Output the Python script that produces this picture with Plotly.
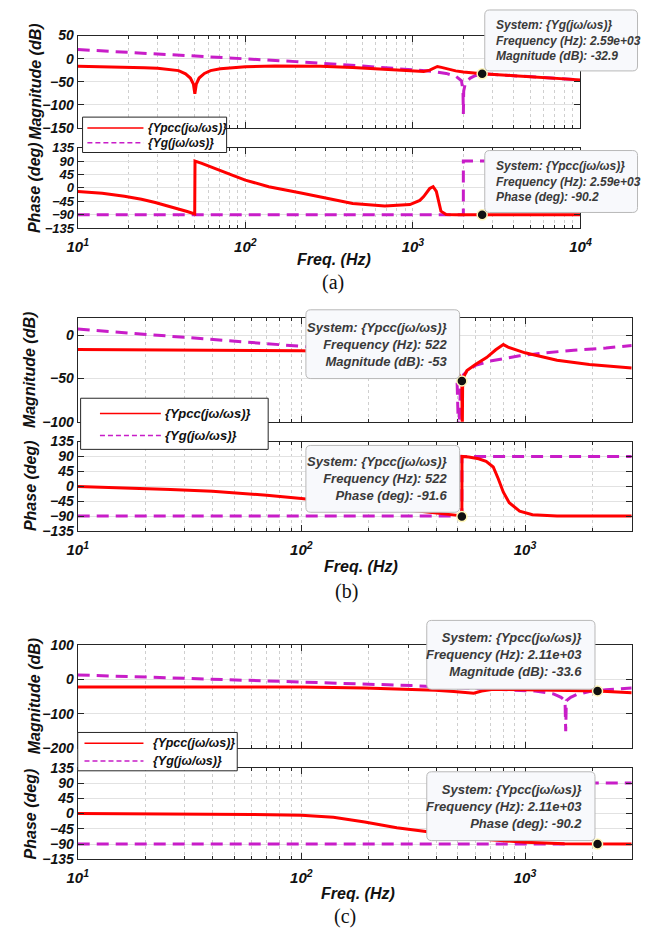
import math
import plotly.graph_objects as go

# ---------------- data: panel (a) ----------------
A_F_PCC_MAG = [10, 15, 20, 25, 30, 35, 40, 44, 47, 49, 50, 51, 53, 57, 62, 71, 85, 100, 150, 215, 281, 437,
               700, 1000, 1160, 1260, 1330, 1400, 1480, 1600, 1800, 2000, 2590, 4000, 6000, 10000]
A_PCC_MAG = [-16.7, -17.5, -18.5, -19.5, -21, -23, -26, -33, -42, -55, -76, -55, -42, -32, -26, -22, -19, -17.5,
             -16, -15.5, -16.5, -19, -23, -26, -28, -25, -20, -17, -19, -22.5, -26.5, -29, -32.9, -37, -41, -46]
A_F_G_MAG = [10, 20, 50, 100, 200, 500, 930, 1300, 1580, 1800, 1950, 1990, 2000, 2010, 2060, 2200, 2350,
             2590, 4000, 6000, 10000]
A_G_MAG = [19.6, 13.6, 5.5, 0, -6.5, -16, -23, -27.5, -32, -38, -48, -70, -120, -70, -52, -42, -37,
           -32.9, -37, -41, -46]
A_F_PCC_PH = [10, 14, 19, 24, 29, 35, 40, 45, 49.9, 50.1, 55, 63, 71, 85, 100, 138, 215, 334, 437, 680, 960,
              1100, 1160, 1260, 1320, 1380, 1420, 1470, 1580, 1800, 2590, 10000]
A_PCC_PH = [-12, -18, -28, -38, -49, -61, -70, -79, -87, 90, 82, 70, 59, 41, 26, 4, -17, -38, -52, -61, -56,
            -42, -29, -2, 4, -12, -45, -78, -89, -90, -90.2, -90]
A_F_G_PH = [10, 2000, 2000, 10000]
A_G_PH = [-90, -90, 90, 90]

# ---------------- data: panel (b) ----------------
B_F_PCC_MAG = [10, 30, 100, 200, 300, 400, 470, 505, 522, 524, 526, 535, 550, 600, 673, 740, 800, 840, 1000,
               1390, 1940, 3000]
B_PCC_MAG = [-16.7, -17.2, -18, -20, -23, -28, -35, -45, -53, -120, -60, -47, -41, -34, -26, -17, -11, -14,
             -20.5, -29, -34, -38]
B_F_G_MAG = [10, 20, 50, 100, 200, 300, 400, 470, 495, 505, 515, 530, 560, 600, 697, 946, 1180, 1650, 2300, 3000]
B_G_MAG = [6.8, 0.8, -6.5, -12.5, -18.5, -22, -25, -30, -38, -120, -55, -46, -40, -35, -30, -24, -21, -17.5,
           -15, -12]
B_F_PCC_PH = [10, 15, 26, 40, 51, 70, 100, 150, 250, 400, 500, 522, 522.5, 560, 620, 670, 721, 760, 800, 850,
              946, 1080, 1390, 3000]
B_PCC_PH = [-1, -4, -10, -15, -20, -27, -37, -50, -65, -80, -88, -91.6, 90, 88, 83, 75, 58, 22, -18, -50,
            -75, -86, -90, -90]
B_F_G_PH = [10, 522, 522, 3000]
B_G_PH = [-90, -90, 90, 90]

# ---------------- data: panel (c) ----------------
C_F_PCC_MAG = [10, 50, 100, 192, 294, 397, 480, 540, 590, 640, 720, 1000, 1500, 2110, 3000]
C_PCC_MAG = [-22, -22, -22.3, -24.8, -27.6, -31.4, -35, -38.5, -40, -34, -28.5, -30, -32, -33.6, -38.5]
C_F_G_MAG = [10, 20, 50, 100, 192, 311, 500, 850, 1110, 1340, 1450, 1510, 1520, 1530, 1600, 1700, 1940,
             2300, 3000]
C_G_MAG = [13, 7, -1, -7, -12.4, -18, -24, -29.5, -34, -42, -52, -62, -151, -62, -52, -44, -35, -30, -25]
C_F_PCC_PH = [10, 30, 60, 100, 139, 192, 267, 360, 500, 700, 1000, 1500, 2110, 3000]
C_PCC_PH = [0, -1, -2.5, -5, -11, -25, -42, -53, -66, -77, -85, -89, -90.2, -90]
C_F_G_PH = [10, 1520, 1520, 3000]
C_G_PH = [-90, -90, 90, 90]

# data tips (frequency, magnitude, phase)
TIP_A = (2590, -32.9, -90.2)
TIP_B = (522, -53, -91.6)
TIP_C = (2110, -33.6, -90.2)

# tick values / labels
MAJOR_A = [10, 100, 1000, 10000]
MINOR_A = [20, 30, 40, 50, 60, 70, 80, 90, 200, 300, 400, 500, 600, 700, 800, 900,
           2000, 3000, 4000, 5000, 6000, 7000, 8000, 9000]
TEXT_A = ["10<sup>1</sup>", "10<sup>2</sup>", "10<sup>3</sup>", "10<sup>4</sup>"]
MAJOR_BC = [10, 100, 1000]
MINOR_BC = [20, 30, 40, 50, 60, 70, 80, 90, 200, 300, 400, 500, 600, 700, 800, 900, 2000]
TEXT_BC = ["10<sup>1</sup>", "10<sup>2</sup>", "10<sup>3</sup>"]
PH_TICKS = [-135, -90, -45, 0, 45, 90, 135]
MAG_TICKS_A = [-150, -100, -50, 0, 50]
MAG_TICKS_B = [-100, -50, 0]
MAG_TICKS_C = [-200, -100, 0, 100]

NAME_PCC = "{Ypcc(jω/ωs)}"
NAME_G = "{Yg(jω/ωs)}"

# ---------------- styling / layout ----------------
W, H = 664, 941
RED = "#ff0000"
MAGENTA = "#c81dc8"
AXC = "#262626"
TIPC = "#3a3a3a"
FONT = "Liberation Sans"


def X(p):
    return p / W


def Y(p):
    return 1 - p / H


def tfont(size):
    return dict(family=FONT, size=size, color="#111111", weight="bold", style="italic")


panels = [
    dict(xr=[1, 4], xpx=(69, 589), mag_px=(28, 122), ph_px=(142, 224), mag_rng=[-150, 50],
         mag_ticks=MAG_TICKS_A, majors=MAJOR_A, minors=MINOR_A, ttext=TEXT_A, ph_font=13,
         f_pm=A_F_PCC_MAG, pm=A_PCC_MAG, f_gm=A_F_G_MAG, gm=A_G_MAG,
         f_pp=A_F_PCC_PH, pp=A_PCC_PH, f_gp=A_F_G_PH, gp=A_G_PH, tip=TIP_A,
         ylab=((26, 75), (25, 183)), freq=(334, 256), cap=("(a)", 333, 279),
         legend=dict(box=(74, 111, 223, 147), rows=(122, 137), line=(79, 137), tx=140, size=12),
         boxes=[((490, 2, 648, 64), "left", 500, 12,
                 ["System: " + NAME_G, "Frequency (Hz): 2.59e+03", "Magnitude (dB): -32.9"]),
                ((490, 145, 648, 208), "left", 500, 12,
                 ["System: " + NAME_PCC, "Frequency (Hz): 2.59e+03", "Phase (deg): -90.2"])]),
    dict(xr=[1, math.log10(3000)], xpx=(69, 642), mag_px=(315, 421), ph_px=(441, 532), mag_rng=[-100, 20],
         mag_ticks=MAG_TICKS_B, majors=MAJOR_BC, minors=MINOR_BC, ttext=TEXT_BC, ph_font=14,
         f_pm=B_F_PCC_MAG, pm=B_PCC_MAG, f_gm=B_F_G_MAG, gm=B_G_MAG,
         f_pp=B_F_PCC_PH, pp=B_PCC_PH, f_gp=B_F_G_PH, gp=B_G_PH, tip=TIP_B,
         ylab=((19, 368), (20, 486)), freq=(362, 568), cap=("(b)", 347, 594),
         legend=dict(box=(72, 397, 266, 449), rows=(412.5, 435), line=(92, 155), tx=157, size=13),
         boxes=[((305, 307, 464, 377), "right", 453, 13,
                 ["System: " + NAME_PCC, "Frequency (Hz): 522", "Magnitude (dB): -53"]),
                ((305, 445, 464, 513), "right", 453, 13,
                 ["System: " + NAME_PCC, "Frequency (Hz): 522", "Phase (deg): -91.6"])]),
    dict(xr=[1, math.log10(3000)], xpx=(69, 642), mag_px=(648, 753), ph_px=(773, 866), mag_rng=[-200, 100],
         mag_ticks=MAG_TICKS_C, majors=MAJOR_BC, minors=MINOR_BC, ttext=TEXT_BC, ph_font=14,
         f_pm=C_F_PCC_MAG, pm=C_PCC_MAG, f_gm=C_F_G_MAG, gm=C_G_MAG,
         f_pp=C_F_PCC_PH, pp=C_PCC_PH, f_gp=C_F_G_PH, gp=C_G_PH, tip=TIP_C,
         ylab=((24, 700), (20, 820)), freq=(359, 901), cap=("(c)", 345, 924),
         legend=dict(box=(69, 737, 234, 776), rows=(748, 766), line=(76, 137), tx=145, size=12.5),
         boxes=[((430, 623, 604, 693), "right", 593, 13,
                 ["System: " + NAME_PCC, "Frequency (Hz): 2.11e+03", "Magnitude (dB): -33.6"]),
                ((430, 777, 604, 847), "right", 593, 13,
                 ["System: " + NAME_PCC, "Frequency (Hz): 2.11e+03", "Phase (deg): -90.2"])]),
]

fig = go.Figure()
layout = dict(width=W, height=H, autosize=False, margin=dict(l=0, r=0, t=0, b=0),
              paper_bgcolor="white", plot_bgcolor="white", showlegend=False)
annotations = []
shapes = []


def rrect_path(x0, y0, x1, y1, r=5):
    pts = [
        ("M", [(x0 + r, y0)]), ("L", [(x1 - r, y0)]), ("Q", [(x1, y0), (x1, y0 + r)]),
        ("L", [(x1, y1 - r)]), ("Q", [(x1, y1), (x1 - r, y1)]), ("L", [(x0 + r, y1)]),
        ("Q", [(x0, y1), (x0, y1 - r)]), ("L", [(x0, y0 + r)]), ("Q", [(x0, y0), (x0 + r, y0)]),
    ]
    s = ""
    for cmd, ps in pts:
        s += cmd + " " + " ".join(f"{X(a):.5f},{Y(b):.5f}" for a, b in ps) + " "
    return s + "Z"


for i, p in enumerate(panels):
    im, ip = 2 * i + 1, 2 * i + 2
    xm = "x" if im == 1 else f"x{im}"
    ym = "y" if im == 1 else f"y{im}"
    xp, yp = f"x{ip}", f"y{ip}"
    xdom = [X(p["xpx"][0]), X(p["xpx"][1])]

    for (xa, ya, ypx, show, rng, yt, yfs) in [
            (xm, ym, p["mag_px"], False, p["mag_rng"], p["mag_ticks"], 14),
            (xp, yp, p["ph_px"], True, [-135, 135], PH_TICKS, p["ph_font"])]:
        xkey = "xaxis" if xa == "x" else "xaxis" + xa[1:]
        ykey = "yaxis" if ya == "y" else "yaxis" + ya[1:]
        xcfg = dict(
            type="log", domain=xdom, range=p["xr"], anchor=ya,
            tickmode="array", tickvals=p["majors"], showticklabels=show,
            ticks="inside", ticklen=6, tickwidth=1, tickcolor=AXC,
            showline=True, linecolor=AXC, linewidth=1.3, mirror="allticks",
            showgrid=True, gridcolor="#c4c4c4", griddash="dot", gridwidth=1, zeroline=False,
            minor=dict(tickmode="array", tickvals=p["minors"], ticks="inside", ticklen=3, tickcolor=AXC,
                       showgrid=True, gridcolor="#cfcfcf", griddash="dot", gridwidth=1))
        if show:
            xcfg.update(ticktext=p["ttext"], tickfont=tfont(15), ticklabelstandoff=5)
        layout[xkey] = xcfg
        layout[ykey] = dict(
            domain=[Y(ypx[1]), Y(ypx[0])], range=rng, anchor=xa,
            tickmode="array", tickvals=yt, ticks="inside", ticklen=6, tickwidth=1, tickcolor=AXC,
            showline=True, linecolor=AXC, linewidth=1.3, mirror="allticks",
            showgrid=True, gridcolor="#e2e2e2", gridwidth=1, zeroline=False,
            tickfont=tfont(yfs))

    # magnitude traces
    fig.add_trace(go.Scatter(x=p["f_gm"], y=p["gm"], mode="lines", xaxis=xm, yaxis=ym, name=NAME_G,
                             line=dict(color=MAGENTA, width=3, dash="12px,7px"), hoverinfo="skip"))
    fig.add_trace(go.Scatter(x=p["f_pm"], y=p["pm"], mode="lines", xaxis=xm, yaxis=ym, name=NAME_PCC,
                             line=dict(color=RED, width=3), hoverinfo="skip"))
    # phase traces
    fig.add_trace(go.Scatter(x=p["f_gp"], y=p["gp"], mode="lines", xaxis=xp, yaxis=yp, name=NAME_G,
                             line=dict(color=MAGENTA, width=3, dash="12px,7px"), hoverinfo="skip"))
    fig.add_trace(go.Scatter(x=p["f_pp"], y=p["pp"], mode="lines", xaxis=xp, yaxis=yp, name=NAME_PCC,
                             line=dict(color=RED, width=3), hoverinfo="skip"))

    # legend box (drawn as shapes + text)
    lgd = p["legend"]
    bx0, by0, bx1, by1 = lgd["box"]
    shapes.append(dict(type="rect", xref="paper", yref="paper", x0=X(bx0), x1=X(bx1), y0=Y(by1), y1=Y(by0),
                       fillcolor="white", line=dict(color=AXC, width=1), layer="above"))
    lx0, lx1 = lgd["line"]
    for (ry, col, dash, name) in [(lgd["rows"][0], RED, "solid", NAME_PCC),
                                  (lgd["rows"][1], MAGENTA, "5px,3px", NAME_G)]:
        shapes.append(dict(type="line", xref="paper", yref="paper", x0=X(lx0), x1=X(lx1), y0=Y(ry), y1=Y(ry),
                           line=dict(color=col, width=1.5, dash=dash), layer="above"))
        annotations.append(dict(xref="paper", yref="paper", x=X(lgd["tx"]), y=Y(ry), xanchor="left",
                                yanchor="middle", showarrow=False, text=name,
                                font=tfont(lgd["size"])))

    # data tip boxes
    for (bx, align, tx, fs, lines) in p["boxes"]:
        x0, y0, x1, y1 = bx
        shapes.append(dict(type="path", xref="paper", yref="paper", path=rrect_path(x0, y0, x1, y1),
                           fillcolor="#f8f9fc", line=dict(color="#b8b8b8", width=1), layer="above"))
        annotations.append(dict(xref="paper", yref="paper", x=X(tx), y=Y((y0 + y1) / 2),
                                xanchor=align, yanchor="middle", align=align, showarrow=False,
                                text="<br>".join(lines),
                                font=dict(family=FONT, size=fs, color=TIPC, weight="bold", style="italic")))

    # data tip markers
    f_tip, m_tip, ph_tip = p["tip"]
    for (xa, ya, v) in [(xm, ym, m_tip), (xp, yp, ph_tip)]:
        fig.add_trace(go.Scatter(x=[f_tip], y=[v], mode="markers", xaxis=xa, yaxis=ya, showlegend=False,
                                 marker=dict(size=10, color="#111111", line=dict(color="#fff6b8", width=1.5)),
                                 hoverinfo="skip"))

    # axis titles and captions
    (mx, my), (px_, py_) = p["ylab"]
    annotations.append(dict(xref="paper", yref="paper", x=X(mx), y=Y(my), textangle=-90, showarrow=False,
                            text="Magnitude (dB)", xanchor="center", yanchor="middle", font=tfont(16)))
    annotations.append(dict(xref="paper", yref="paper", x=X(px_), y=Y(py_), textangle=-90, showarrow=False,
                            text="Phase (deg)", xanchor="center", yanchor="middle", font=tfont(16)))
    fx, fy = p["freq"]
    annotations.append(dict(xref="paper", yref="paper", x=X(fx), y=Y(fy), showarrow=False,
                            text="Freq. (Hz)", xanchor="center", yanchor="middle", font=tfont(16)))
    ct, cx, cy = p["cap"]
    annotations.append(dict(xref="paper", yref="paper", x=X(cx), y=Y(cy), showarrow=False,
                            text=ct, xanchor="center", yanchor="middle",
                            font=dict(family="Liberation Serif", size=20, color="#111111")))

layout["annotations"] = annotations
layout["shapes"] = shapes
fig.update_layout(**layout)
fig.write_html("out.html")
